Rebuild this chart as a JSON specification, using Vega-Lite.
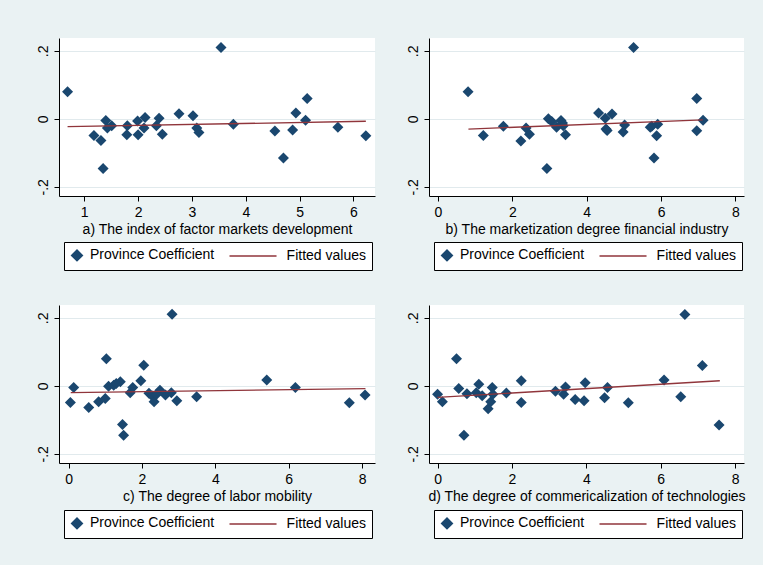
{
  "$schema": "https://vega.github.io/schema/vega-lite/v6.json",
  "background": "#EAF2F3",
  "padding": {"left": 36, "top": 38, "right": 18, "bottom": 28},
  "datasets": {
    "a_pts": [
      {"x":0.69,"y":0.080},{"x":1.18,"y":-0.049},{"x":1.31,"y":-0.064},{"x":1.35,"y":-0.146},{"x":1.40,"y":-0.005},
      {"x":1.43,"y":-0.027},{"x":1.51,"y":-0.020},{"x":1.80,"y":-0.020},{"x":1.79,"y":-0.047},{"x":2.00,"y":-0.047},
      {"x":1.99,"y":-0.006},{"x":2.13,"y":0.004},{"x":2.11,"y":-0.027},{"x":2.34,"y":-0.020},{"x":2.39,"y":0.002},
      {"x":2.45,"y":-0.045},{"x":2.76,"y":0.015},{"x":3.02,"y":0.009},{"x":3.09,"y":-0.027},{"x":3.13,"y":-0.040},
      {"x":3.54,"y":0.210},{"x":3.77,"y":-0.016},{"x":4.54,"y":-0.036},{"x":4.70,"y":-0.115},{"x":4.87,"y":-0.033},
      {"x":4.93,"y":0.017},{"x":5.14,"y":0.060},{"x":5.11,"y":-0.004},{"x":5.71,"y":-0.025},{"x":6.23,"y":-0.050}
    ],
    "a_fit": [{"x":0.69,"y":-0.023},{"x":6.23,"y":-0.007}],
    "b_pts": [
      {"x":0.81,"y":0.080},{"x":1.22,"y":-0.049},{"x":1.76,"y":-0.022},{"x":2.23,"y":-0.065},{"x":2.37,"y":-0.027},
      {"x":2.46,"y":-0.045},{"x":2.93,"y":-0.146},{"x":2.97,"y":0.000},{"x":3.06,"y":-0.008},{"x":3.19,"y":-0.025},
      {"x":3.31,"y":-0.005},{"x":3.35,"y":-0.012},{"x":3.37,"y":-0.020},{"x":3.43,"y":-0.047},{"x":4.32,"y":0.017},
      {"x":4.50,"y":0.002},{"x":4.68,"y":0.014},{"x":4.52,"y":-0.030},{"x":4.55,"y":-0.034},{"x":5.02,"y":-0.018},
      {"x":4.98,"y":-0.039},{"x":5.26,"y":0.210},{"x":5.71,"y":-0.025},{"x":5.75,"y":-0.022},{"x":5.91,"y":-0.016},
      {"x":5.88,"y":-0.050},{"x":5.81,"y":-0.115},{"x":6.96,"y":0.060},{"x":6.96,"y":-0.035},{"x":7.13,"y":-0.004}
    ],
    "b_fit": [{"x":0.82,"y":-0.030},{"x":7.12,"y":-0.003}],
    "c_pts": [
      {"x":0.05,"y":-0.049},{"x":0.14,"y":-0.005},{"x":0.55,"y":-0.064},{"x":0.82,"y":-0.047},{"x":1.00,"y":-0.037},
      {"x":1.03,"y":0.080},{"x":1.09,"y":-0.001},{"x":1.23,"y":0.002},{"x":1.30,"y":0.007},{"x":1.41,"y":0.012},
      {"x":1.47,"y":-0.114},{"x":1.50,"y":-0.145},{"x":1.68,"y":-0.020},{"x":1.75,"y":-0.005},{"x":1.97,"y":0.015},
      {"x":2.05,"y":0.061},{"x":2.19,"y":-0.022},{"x":2.28,"y":-0.030},{"x":2.33,"y":-0.047},{"x":2.49,"y":-0.013},
      {"x":2.64,"y":-0.027},{"x":2.80,"y":-0.020},{"x":2.82,"y":0.211},{"x":2.95,"y":-0.044},{"x":3.49,"y":-0.032},
      {"x":5.40,"y":0.017},{"x":6.18,"y":-0.005},{"x":7.65,"y":-0.050},{"x":8.08,"y":-0.027},{"x":2.40,"y":-0.025}
    ],
    "c_fit": [{"x":0.06,"y":-0.020},{"x":8.09,"y":-0.008}],
    "d_pts": [
      {"x":0.00,"y":-0.025},{"x":0.13,"y":-0.047},{"x":0.51,"y":0.080},{"x":0.57,"y":-0.008},{"x":0.71,"y":-0.145},
      {"x":0.79,"y":-0.023},{"x":1.04,"y":-0.020},{"x":1.11,"y":0.005},{"x":1.20,"y":-0.029},{"x":1.36,"y":-0.067},
      {"x":1.43,"y":-0.047},{"x":1.47,"y":-0.005},{"x":1.49,"y":-0.025},{"x":1.85,"y":-0.021},{"x":2.25,"y":0.015},
      {"x":2.25,"y":-0.049},{"x":3.17,"y":-0.016},{"x":3.39,"y":-0.025},{"x":3.44,"y":-0.003},{"x":3.70,"y":-0.040},
      {"x":3.94,"y":-0.044},{"x":3.97,"y":0.009},{"x":4.49,"y":-0.035},{"x":4.57,"y":-0.005},{"x":5.13,"y":-0.050},
      {"x":6.09,"y":0.017},{"x":6.54,"y":-0.032},{"x":6.65,"y":0.210},{"x":7.12,"y":0.060},{"x":7.57,"y":-0.115}
    ],
    "d_fit": [{"x":0.00,"y":-0.034},{"x":7.59,"y":0.015}]
  },
  "columns": 2,
  "spacing": {"row": 34, "column": 31},
  "resolve": {"scale": {"color": "independent"}, "legend": {"color": "independent"}},
  "concat": [
    {
      "width": 316, "height": 158,
      "layer": [
        {"data": {"name": "a_pts"},
         "mark": {"type": "point", "shape": "diamond", "filled": true, "size": 121, "opacity": 1},
         "encoding": {
           "x": {"field": "x", "type": "quantitative", "scale": {"domain": [0.531, 6.40], "nice": false, "zero": false},
                 "axis": {"values": [1,2,3,4,5,6], "title": "a) The index of factor markets development"}},
           "y": {"field": "y", "type": "quantitative", "scale": {"domain": [-0.227, 0.238], "nice": false, "zero": false},
                 "axis": {"values": [-0.2,-0.1,0,0.1,0.2], "title": null, "labelExpr": "datum.value == 0 ? '0' : (datum.value < 0 ? '-' : '') + '.' + round(abs(datum.value) * 10)"}},
           "color": {"datum": "Province Coefficient", "scale": {"domain": ["Province Coefficient", "Fitted values"], "range": ["#1A476F", "#90353B"]},
             "legend": {"orient": "none", "legendX": 5, "legendY": 204, "direction": "horizontal", "title": null,
               "encode": {"symbols": {"update": {"shape": {"signal": "datum.value === 'Fitted values' ? 'M-1,0L7.55,0' : 'diamond'"}, "fill": {"signal": "datum.value === 'Fitted values' ? 'transparent' : '#1A476F'"}, "stroke": {"signal": "datum.value === 'Fitted values' ? '#90353B' : 'transparent'"}, "strokeWidth": {"value": 1.3}, "opacity": {"value": 1}}},
                          "labels": {"update": {"dx": {"signal": "datum.value === 'Fitted values' ? 38.6 : 0"}}}}}}
         }},
        {"data": {"name": "a_fit"},
         "mark": {"type": "line", "strokeWidth": 1.3},
         "encoding": {"x": {"field": "x", "type": "quantitative"}, "y": {"field": "y", "type": "quantitative"},
           "color": {"datum": "Fitted values",
             "legend": {"orient": "none", "legendX": 5, "legendY": 204, "direction": "horizontal", "title": null,
               "encode": {"symbols": {"update": {"shape": {"signal": "datum.value === 'Fitted values' ? 'M-1,0L7.55,0' : 'diamond'"}, "fill": {"signal": "datum.value === 'Fitted values' ? 'transparent' : '#1A476F'"}, "stroke": {"signal": "datum.value === 'Fitted values' ? '#90353B' : 'transparent'"}, "strokeWidth": {"value": 1.3}, "opacity": {"value": 1}}},
                          "labels": {"update": {"dx": {"signal": "datum.value === 'Fitted values' ? 38.6 : 0"}}}}}}}}
      ]
    },
    {
      "width": 315, "height": 158,
      "layer": [
        {"data": {"name": "b_pts"},
         "mark": {"type": "point", "shape": "diamond", "filled": true, "size": 121, "opacity": 1},
         "encoding": {
           "x": {"field": "x", "type": "quantitative", "scale": {"domain": [-0.24, 8.23], "nice": false, "zero": false},
                 "axis": {"values": [0,2,4,6,8], "title": "b) The marketization degree financial industry"}},
           "y": {"field": "y", "type": "quantitative", "scale": {"domain": [-0.227, 0.238], "nice": false, "zero": false},
                 "axis": {"values": [-0.2,-0.1,0,0.1,0.2], "title": null, "labelExpr": "datum.value == 0 ? '0' : (datum.value < 0 ? '-' : '') + '.' + round(abs(datum.value) * 10)"}},
           "color": {"datum": "Province Coefficient", "scale": {"domain": ["Province Coefficient", "Fitted values"], "range": ["#1A476F", "#90353B"]},
             "legend": {"orient": "none", "legendX": 5, "legendY": 204, "direction": "horizontal", "title": null,
               "encode": {"symbols": {"update": {"shape": {"signal": "datum.value === 'Fitted values' ? 'M-1,0L7.55,0' : 'diamond'"}, "fill": {"signal": "datum.value === 'Fitted values' ? 'transparent' : '#1A476F'"}, "stroke": {"signal": "datum.value === 'Fitted values' ? '#90353B' : 'transparent'"}, "strokeWidth": {"value": 1.3}, "opacity": {"value": 1}}},
                          "labels": {"update": {"dx": {"signal": "datum.value === 'Fitted values' ? 38.6 : 0"}}}}}}
         }},
        {"data": {"name": "b_fit"},
         "mark": {"type": "line", "strokeWidth": 1.3},
         "encoding": {"x": {"field": "x", "type": "quantitative"}, "y": {"field": "y", "type": "quantitative"},
           "color": {"datum": "Fitted values",
             "legend": {"orient": "none", "legendX": 5, "legendY": 204, "direction": "horizontal", "title": null,
               "encode": {"symbols": {"update": {"shape": {"signal": "datum.value === 'Fitted values' ? 'M-1,0L7.55,0' : 'diamond'"}, "fill": {"signal": "datum.value === 'Fitted values' ? 'transparent' : '#1A476F'"}, "stroke": {"signal": "datum.value === 'Fitted values' ? '#90353B' : 'transparent'"}, "strokeWidth": {"value": 1.3}, "opacity": {"value": 1}}},
                          "labels": {"update": {"dx": {"signal": "datum.value === 'Fitted values' ? 38.6 : 0"}}}}}}}}
      ]
    },
    {
      "width": 316, "height": 158,
      "layer": [
        {"data": {"name": "c_pts"},
         "mark": {"type": "point", "shape": "diamond", "filled": true, "size": 121, "opacity": 1},
         "encoding": {
           "x": {"field": "x", "type": "quantitative", "scale": {"domain": [-0.26, 8.35], "nice": false, "zero": false},
                 "axis": {"values": [0,2,4,6,8], "title": "c) The degree of labor mobility"}},
           "y": {"field": "y", "type": "quantitative", "scale": {"domain": [-0.227, 0.238], "nice": false, "zero": false},
                 "axis": {"values": [-0.2,-0.1,0,0.1,0.2], "title": null, "labelExpr": "datum.value == 0 ? '0' : (datum.value < 0 ? '-' : '') + '.' + round(abs(datum.value) * 10)"}},
           "color": {"datum": "Province Coefficient", "scale": {"domain": ["Province Coefficient", "Fitted values"], "range": ["#1A476F", "#90353B"]},
             "legend": {"orient": "none", "legendX": 5, "legendY": 205, "direction": "horizontal", "title": null,
               "encode": {"symbols": {"update": {"shape": {"signal": "datum.value === 'Fitted values' ? 'M-1,0L7.55,0' : 'diamond'"}, "fill": {"signal": "datum.value === 'Fitted values' ? 'transparent' : '#1A476F'"}, "stroke": {"signal": "datum.value === 'Fitted values' ? '#90353B' : 'transparent'"}, "strokeWidth": {"value": 1.3}, "opacity": {"value": 1}}},
                          "labels": {"update": {"dx": {"signal": "datum.value === 'Fitted values' ? 38.6 : 0"}}}}}}
         }},
        {"data": {"name": "c_fit"},
         "mark": {"type": "line", "strokeWidth": 1.3},
         "encoding": {"x": {"field": "x", "type": "quantitative"}, "y": {"field": "y", "type": "quantitative"},
           "color": {"datum": "Fitted values",
             "legend": {"orient": "none", "legendX": 5, "legendY": 205, "direction": "horizontal", "title": null,
               "encode": {"symbols": {"update": {"shape": {"signal": "datum.value === 'Fitted values' ? 'M-1,0L7.55,0' : 'diamond'"}, "fill": {"signal": "datum.value === 'Fitted values' ? 'transparent' : '#1A476F'"}, "stroke": {"signal": "datum.value === 'Fitted values' ? '#90353B' : 'transparent'"}, "strokeWidth": {"value": 1.3}, "opacity": {"value": 1}}},
                          "labels": {"update": {"dx": {"signal": "datum.value === 'Fitted values' ? 38.6 : 0"}}}}}}}}
      ]
    },
    {
      "width": 315, "height": 158,
      "layer": [
        {"data": {"name": "d_pts"},
         "mark": {"type": "point", "shape": "diamond", "filled": true, "size": 121, "opacity": 1},
         "encoding": {
           "x": {"field": "x", "type": "quantitative", "scale": {"domain": [-0.23, 8.24], "nice": false, "zero": false},
                 "axis": {"values": [0,2,4,6,8], "title": "d) The degree of commericalization of technologies"}},
           "y": {"field": "y", "type": "quantitative", "scale": {"domain": [-0.227, 0.238], "nice": false, "zero": false},
                 "axis": {"values": [-0.2,-0.1,0,0.1,0.2], "title": null, "labelExpr": "datum.value == 0 ? '0' : (datum.value < 0 ? '-' : '') + '.' + round(abs(datum.value) * 10)"}},
           "color": {"datum": "Province Coefficient", "scale": {"domain": ["Province Coefficient", "Fitted values"], "range": ["#1A476F", "#90353B"]},
             "legend": {"orient": "none", "legendX": 5, "legendY": 205, "direction": "horizontal", "title": null,
               "encode": {"symbols": {"update": {"shape": {"signal": "datum.value === 'Fitted values' ? 'M-1,0L7.55,0' : 'diamond'"}, "fill": {"signal": "datum.value === 'Fitted values' ? 'transparent' : '#1A476F'"}, "stroke": {"signal": "datum.value === 'Fitted values' ? '#90353B' : 'transparent'"}, "strokeWidth": {"value": 1.3}, "opacity": {"value": 1}}},
                          "labels": {"update": {"dx": {"signal": "datum.value === 'Fitted values' ? 38.6 : 0"}}}}}}
         }},
        {"data": {"name": "d_fit"},
         "mark": {"type": "line", "strokeWidth": 1.3},
         "encoding": {"x": {"field": "x", "type": "quantitative"}, "y": {"field": "y", "type": "quantitative"},
           "color": {"datum": "Fitted values",
             "legend": {"orient": "none", "legendX": 5, "legendY": 205, "direction": "horizontal", "title": null,
               "encode": {"symbols": {"update": {"shape": {"signal": "datum.value === 'Fitted values' ? 'M-1,0L7.55,0' : 'diamond'"}, "fill": {"signal": "datum.value === 'Fitted values' ? 'transparent' : '#1A476F'"}, "stroke": {"signal": "datum.value === 'Fitted values' ? '#90353B' : 'transparent'"}, "strokeWidth": {"value": 1.3}, "opacity": {"value": 1}}},
                          "labels": {"update": {"dx": {"signal": "datum.value === 'Fitted values' ? 38.6 : 0"}}}}}}}}
      ]
    }
  ],
  "config": {
    "view": {"fill": "white", "stroke": null},
    "axis": {"domainColor": "black", "tickColor": "black", "labelColor": "black", "titleColor": "black",
             "labelFont": "Liberation Sans", "titleFont": "Liberation Sans", "labelFontSize": 14, "titleFontSize": 14,
             "titleFontWeight": "normal", "tickSize": 5, "domainWidth": 1, "tickWidth": 1, "labelOverlap": false, "labelBound": false},
    "axisX": {"grid": false, "labelPadding": 4, "titlePadding": 3, "labelFlush": false},
    "axisY": {"grid": true, "gridColor": "#E1EAED", "gridWidth": 1, "labelAngle": -90, "labelAlign": "center", "labelBaseline": "bottom", "labelPadding": 4},
    "legend": {"fillColor": "white", "strokeColor": "black", "padding": 6, "labelFont": "Liberation Sans", "labelFontSize": 14,
               "labelColor": "black", "labelOffset": 6, "columnPadding": 11, "symbolSize": 121, "cornerRadius": 0, "strokeWidth": 1, "labelLimit": 400}
  }
}
